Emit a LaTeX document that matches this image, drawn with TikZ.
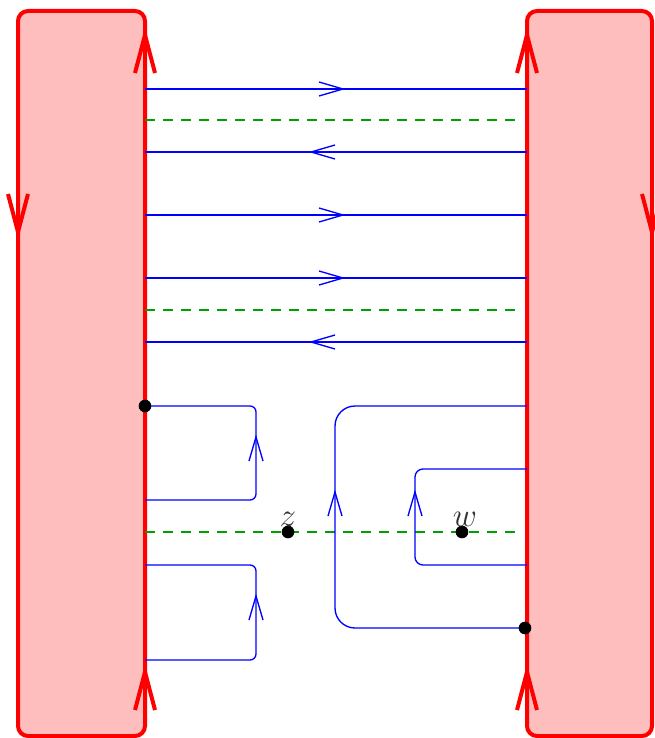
\documentclass[tikz,border=0pt]{standalone}
\usetikzlibrary{arrows.meta}
\definecolor{pinkfill}{RGB}{255,190,190}
\definecolor{dgreen}{RGB}{0,160,0}
\tikzset{
  bound/.style={draw=red,fill=pinkfill,line width=3pt,rounded corners=7.5pt},
  curve/.style={draw=blue,line width=1pt},
  cut/.style={draw=dgreen,line width=1pt,dash pattern=on 7.5pt off 6pt},
  dot/.style={circle,fill=black,inner sep=0pt,minimum size=9.5pt},
  lbl/.style={inner sep=0pt,font=\fontsize{24}{28}\selectfont,text=black!80},
  bchev/.pic={\draw[blue,line width=1pt] (-24,-7) -- (0,0) -- (-24,7);},
  rchev/.pic={\draw[red,line width=3pt] (-38,-10) -- (0,0) -- (-38,10);},
}
\begin{document}
\begin{tikzpicture}[x=0.75pt,y=-0.75pt]
\useasboundingbox (0,0) rectangle (655,738);
% boundary rectangles
\path[bound] (18,11) rectangle (145,736);
\path[bound] (527,11) rectangle (652,736);
% red orientation arrows
\pic[rotate=90] at (145,35) {rchev};
\pic[rotate=90] at (145,672) {rchev};
\pic[rotate=90] at (527,35) {rchev};
\pic[rotate=90] at (527,672) {rchev};
\pic[rotate=-90] at (18,232) {rchev};
\pic[rotate=-90] at (652,232) {rchev};
% straight strands
\draw[curve] (145,89) -- (527,89);
\pic at (343,89) {bchev};
\draw[cut] (145,120) -- (520,120);
\draw[curve] (145,152) -- (527,152);
\pic[rotate=180] at (311,152) {bchev};
\draw[curve] (145,215) -- (527,215);
\pic at (343,215) {bchev};
\draw[curve] (145,278) -- (527,278);
\pic at (343,278) {bchev};
\draw[cut] (145,310) -- (520,310);
\draw[curve] (145,342) -- (527,342);
\pic[rotate=180] at (311,342) {bchev};
% bottom cut
\draw[cut] (145,532) -- (520,532);
\node[dot] (z) at (288,532) {};
\node[dot] (w) at (462,532) {};
\node[lbl,anchor=base] at (288,526) {$z$};
\node[lbl,anchor=base] at (465,526) {$w$};
% left loops
\draw[curve,rounded corners=4.5pt] (145,406) -- (256,406) -- (256,500) -- (145,500);
\pic[rotate=90] at (256,437) {bchev};
\draw[curve,rounded corners=4.5pt] (145,565) -- (256,565) -- (256,660) -- (145,660);
\pic[rotate=90] at (256,596) {bchev};
\node[dot] (p) at (145,406) {};
% right loops
\draw[curve,rounded corners=15pt] (527,406) -- (335,406) -- (335,628) -- (527,628);
\pic[rotate=90] at (335,492) {bchev};
\draw[curve,rounded corners=6pt] (527,469) -- (415,469) -- (415,565) -- (527,565);
\pic[rotate=90] at (415,492) {bchev};
\node[dot] (q) at (525,628) {};
\end{tikzpicture}
\end{document}
